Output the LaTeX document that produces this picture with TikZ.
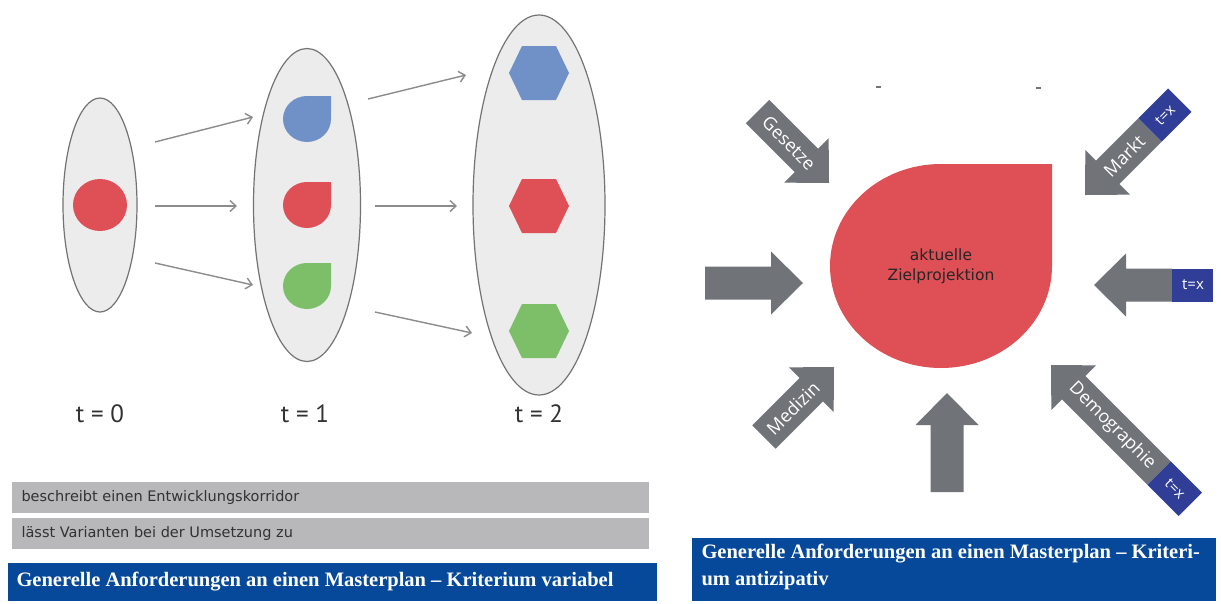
\documentclass[tikz,border=0pt]{standalone}
\usepackage{fontspec}
\setmainfont{Liberation Serif}
\newfontfamily\lblfont{PT Sans}
\newfontfamily\barfont{DejaVu Sans}
\newfontfamily\arrfont{Open Sans}
\usetikzlibrary{shapes.geometric,arrows.meta}

\definecolor{stagefill}{RGB}{236,236,236}
\definecolor{stageline}{RGB}{115,115,115}
\definecolor{dropred}{RGB}{222,79,86}
\definecolor{dropblue}{RGB}{112,145,200}
\definecolor{dropgreen}{RGB}{125,190,105}
\definecolor{thingray}{RGB}{140,140,140}
\definecolor{biggray}{RGB}{112,116,121}
\definecolor{tagblue}{RGB}{48,62,152}
\definecolor{titleblue}{RGB}{6,72,153}
\definecolor{barfill}{RGB}{184,184,187}
\definecolor{bartext}{RGB}{50,50,50}

\tikzset{
  stage/.style={ellipse, draw=stageline, fill=stagefill, line width=1.2pt, inner sep=0pt},
  flow/.style={draw=thingray, line width=1.4pt, -{Straight Barb[length=6pt,width=11pt]}},
  tlabel/.style={text=bartext, font=\lblfont\fontsize{25}{25}\selectfont},
  bartxt/.style={text=bartext, anchor=west, font=\barfont\fontsize{14.5}{14.5}\selectfont},
  arrtxt/.style={text=white, font=\arrfont\fontsize{18}{18}\selectfont},
  tagtxt/.style={text=white, font=\arrfont\fontsize{15}{15}\selectfont},
  titletxt/.style={text=white, font=\bfseries\fontsize{20.5}{27}\selectfont},
  pics/drop/.style={code={
    \fill[#1] (24,-23) -- (24,0) arc[start angle=0, end angle=270, x radius=24, y radius=23] -- cycle;}},
  pics/hexa/.style={code={
    \fill[#1] (-30,0) -- (-17,-27) -- (17,-27) -- (30,0) -- (17,27) -- (-17,27) -- cycle;}},
  pics/bigarrow/.style={code={
    \fill[biggray] (0,0) -- (-32,31.5) -- (-32,16.5) -- (-#1,16.5) -- (-#1,-16.5) -- (-32,-16.5) -- (-32,-31.5) -- cycle;}},
  pics/tag/.style args={#1:#2}{code={
    \fill[tagblue] (-#1,-16.5) rectangle (-#2,16.5);}}
}

\begin{document}
\begin{tikzpicture}[x=1pt, y=-1pt]
\useasboundingbox (0,0) rectangle (1221,603);
\fill[white] (0,0) rectangle (1221,603);

% left: Entwicklungskorridor
\node[stage, minimum width=74pt, minimum height=214pt] (e0) at (100,205) {};
\node[stage, minimum width=107pt, minimum height=313pt] (e1) at (307,205) {};
\node[stage, minimum width=132pt, minimum height=380pt] (e2) at (539,205) {};

\fill[dropred] (100,205) ellipse[x radius=27, y radius=26];
\pic at (307,119) {drop=dropblue};
\pic at (307,205) {drop=dropred};
\pic at (307,286) {drop=dropgreen};
\pic at (539,73) {hexa=dropblue};
\pic at (539,206) {hexa=dropred};
\pic at (539,331) {hexa=dropgreen};

\coordinate (s1) at (155,142);
\coordinate (s2) at (155,206);
\coordinate (s3) at (155,263);
\coordinate (z1) at (253,117);
\coordinate (z2) at (237,206);
\coordinate (z3) at (253,285);
\coordinate (s4) at (368,99);
\coordinate (s5) at (375,206);
\coordinate (s6) at (375,312);
\coordinate (z4) at (466,75);
\coordinate (z5) at (457,206);
\coordinate (z6) at (472,333);
\draw[flow] (s1) -- (z1);
\draw[flow] (s2) -- (z2);
\draw[flow] (s3) -- (z3);
\draw[flow] (s4) -- (z4);
\draw[flow] (s5) -- (z5);
\draw[flow] (s6) -- (z6);

\node[tlabel] (t0) at (100,414) {t = 0};
\node[tlabel] (t1) at (305,414) {t = 1};
\node[tlabel] (t2) at (539,414) {t = 2};

\fill[barfill] (12,482) rectangle (649,513);
\fill[barfill] (12,518) rectangle (649,549);
\node[bartxt] (bar1) at (18,497.5) {beschreibt einen Entwicklungskorridor};
\node[bartxt] (bar2) at (18,533.5) {lässt Varianten bei der Umsetzung zu};

\fill[titleblue] (8,563) rectangle (657,601);
\node[titletxt, anchor=west] (title1) at (13,582) {Generelle Anforderungen an einen Masterplan – Kriterium variabel};

% right: Zielprojektion
\draw[biggray, line width=1.5pt] (876,87) -- (881,87);
\draw[biggray, line width=1.5pt] (1036,88) -- (1041,88);

\fill[dropred] (1052,164) -- (1052,266) arc[start angle=0, end angle=270, x radius=111, y radius=102] -- cycle;
\node[text=black!85, align=center, font=\barfont\fontsize{15.5}{20}\selectfont] (ziel) at (941,266) {aktuelle\\Zielprojektion};

\pic[rotate=-45] at (829,183) {bigarrow=101};
\pic at (803,283) {bigarrow=98};
\pic[rotate=45] at (834,367) {bigarrow=99};
\pic[rotate=90] at (947,393) {bigarrow=99};
\pic[rotate=135] at (1051,365) {bigarrow=153};
\pic[rotate=135] at (1051,365) {tag={153:197}};
\pic[rotate=180] at (1094,285) {bigarrow=78};
\pic[rotate=180] at (1094,285) {tag={78:119}};
\pic[rotate=-135] at (1085,195) {bigarrow=92};
\pic[rotate=-135] at (1085,195) {tag={92:134}};

\node[arrtxt, rotate=-45] (gesetze) at (789,143) {Gesetze};
\node[arrtxt, rotate=45] (medizin) at (793,408) {Medizin};
\node[arrtxt, rotate=45] (markt) at (1124,156) {Markt};
\node[tagtxt, rotate=45] (tagm) at (1165,115) {t=x};
\node[tagtxt] (tagr) at (1193,285) {t=x};
\node[arrtxt, rotate=-45] (demo) at (1112,426) {Demographie};
\node[tagtxt, rotate=-45] (tagd) at (1175,489) {t=x};

\fill[titleblue] (692,538) rectangle (1216,601);
\node[titletxt, anchor=north west, align=left] (title2) at (698,541) {Generelle Anforderungen an einen Masterplan – Kriteri-\\um antizipativ};
\end{tikzpicture}
\end{document}
